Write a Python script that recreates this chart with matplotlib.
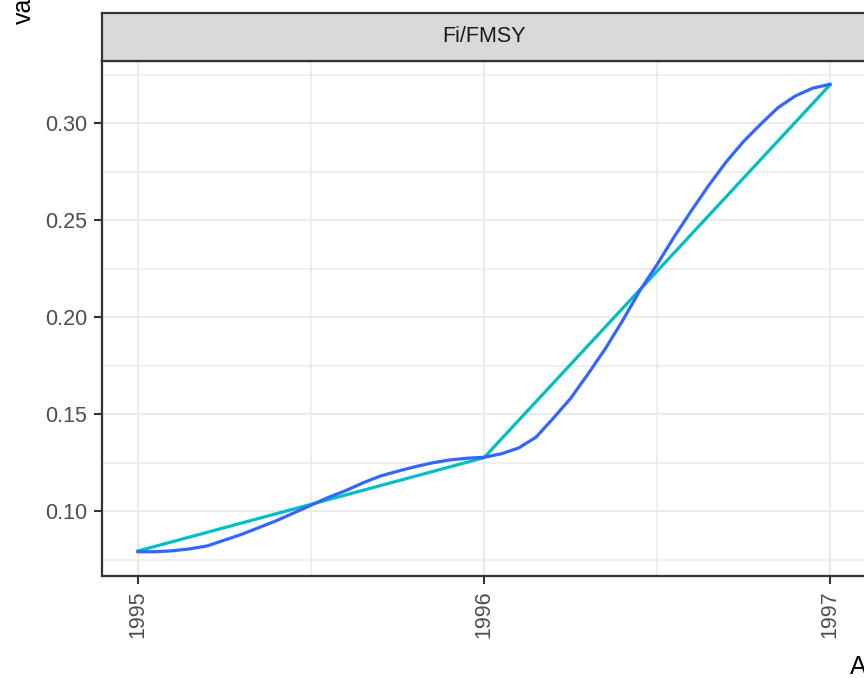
import numpy as np
import matplotlib
matplotlib.use("Agg")
import matplotlib.pyplot as plt
from matplotlib.ticker import MultipleLocator

# data
years = [1995, 1996, 1997]
fi_fmsy = [0.0794, 0.1275, 0.3197]

# smoothed curve, read every 0.05 year
smooth_x = [1995.00, 1995.05, 1995.10, 1995.15, 1995.20, 1995.25, 1995.30,
            1995.35, 1995.40, 1995.45, 1995.50, 1995.55, 1995.60, 1995.65,
            1995.70, 1995.75, 1995.80, 1995.85, 1995.90, 1995.95, 1996.00,
            1996.05, 1996.10, 1996.15, 1996.20, 1996.25, 1996.30, 1996.35,
            1996.40, 1996.45, 1996.50, 1996.55, 1996.60, 1996.65, 1996.70,
            1996.75, 1996.80, 1996.85, 1996.90, 1996.95, 1997.00]
smooth_y = [0.0790, 0.0790, 0.0795, 0.0805, 0.0820, 0.0850, 0.0880,
            0.0915, 0.0950, 0.0990, 0.1030, 0.1070, 0.1105, 0.1145,
            0.1180, 0.1205, 0.1228, 0.1248, 0.1263, 0.1272, 0.1277,
            0.1295, 0.1325, 0.1380, 0.1478, 0.1580, 0.1705, 0.1835,
            0.1980, 0.2135, 0.2270, 0.2415, 0.2550, 0.2680, 0.2800,
            0.2905, 0.2995, 0.3080, 0.3140, 0.3180, 0.3200]

panel_title = "Fi/FMSY"
y_ticks = [0.10, 0.15, 0.20, 0.25, 0.30]

plt.rcParams['font.family'] = ['Liberation Sans', 'DejaVu Sans']

fig = plt.figure(figsize=(8.64, 6.78), dpi=100)
W, H = 864, 678

# panel: left 102px, right ~866px, top 61px, bottom 576px
ax = fig.add_axes([102 / W, 1 - 576 / H, (866 - 102) / W, (576 - 61) / H])
ax.plot(years, fi_fmsy, color="#00BFC4", lw=2.3, zorder=3)
ax.plot(smooth_x, smooth_y, color="#3366FF", lw=2.3, zorder=4,
        solid_joinstyle="round")

ax.set_xlim(1994.896, 1997.104)
ax.set_ylim(0.0665, 0.332)
ax.set_xticks(years)
ax.set_xticklabels([str(y) for y in years], rotation=90, va="top")
ax.set_yticks(y_ticks)
ax.set_yticklabels(["%.2f" % v for v in y_ticks])
ax.xaxis.set_minor_locator(MultipleLocator(0.5))
ax.yaxis.set_minor_locator(MultipleLocator(0.025))

ax.grid(which="major", color="#EBEBEB", lw=1.5, zorder=0)
ax.grid(which="minor", color="#EBEBEB", lw=1.1, zorder=0)
ax.set_axisbelow(True)
ax.tick_params(which="major", length=5.5, width=1.5, color="#333333",
               labelsize=15.5, labelcolor="#4D4D4D", pad=5)
ax.tick_params(which="minor", length=0)
for s in ax.spines.values():
    s.set_color("#333333")
    s.set_linewidth(1.6)

# facet strip
sax = fig.add_axes([102 / W, 1 - 61 / H, (866 - 102) / W, (61 - 13) / H])
sax.set_facecolor("#D9D9D9")
sax.set_xticks([])
sax.set_yticks([])
for s in sax.spines.values():
    s.set_color("#333333")
    s.set_linewidth(1.6)
sax.text(0.5, 0.5, panel_title, ha="center", va="center",
         fontsize=15.5, color="#1A1A1A", transform=sax.transAxes)

# axis titles (cropped in the reference)
fig.text(24 / W, 1 - 24 / H, "value", rotation=90, ha="center", va="bottom",
         fontsize=18, color="black")
fig.text(850 / W, 1 - 674 / H, "Age", ha="left", va="baseline",
         fontsize=18, color="black")

fig.savefig("out.png", dpi=100)
